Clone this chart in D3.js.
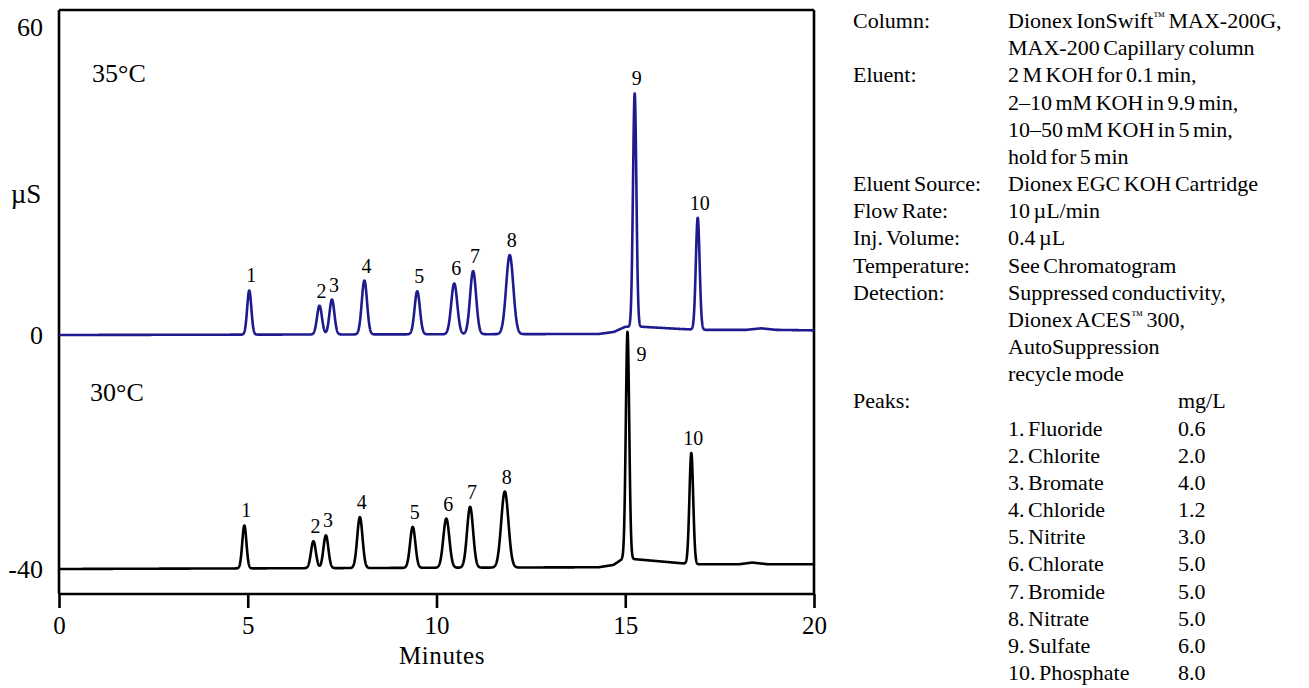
<!DOCTYPE html>
<html>
<head>
<meta charset="utf-8">
<script src="https://cdn.jsdelivr.net/npm/d3@7"></script>
<style>
  body { margin: 0; background: #fff; }
  text { font-family: "Liberation Serif", "Times New Roman", serif; fill: #000; }
</style>
</head>
<body>
<svg id="chart" width="1309" height="688"></svg>
<script>
// ---- axis ticks ----
const timeTicks = [0, 5, 10, 15, 20];
const signalTicks = [-40, 0, 60];

// ---- peaks: numbering, retention time (min), height (µS), width (min) ----
const peakIds = [1, 2, 3, 4, 5, 6, 7, 8, 9, 10];

// 35 °C run (trace drawn at offset 0)
const rt35 = [5.04, 6.90, 7.23, 8.09, 9.49, 10.47, 10.97, 11.94, 15.25, 16.92];
const ht35 = [8.6, 5.6, 6.8, 10.5, 8.4, 9.9, 12.3, 15.4, 45.5, 21.8];
const sd35 = [0.055, 0.065, 0.065, 0.07, 0.07, 0.08, 0.08, 0.095, 0.045, 0.05];
const drift35 = [[0, 0], [14.3, 0.2], [14.7, 0.6], [15.0, 1.6], [15.45, 1.6], [16.4, 1.2],
                 [17.0, 1.0], [18.2, 1.0], [18.6, 1.3], [19.0, 1.0], [20, 0.9]];

// 30 °C run (trace drawn at offset -40)
const rt30 = [4.91, 6.74, 7.07, 7.97, 9.37, 10.26, 10.89, 11.81, 15.06, 16.75];
const ht30 = [7.35, 4.6, 5.6, 8.7, 7.0, 8.4, 10.4, 13.0, 38.9, 18.95];
const sd30 = [0.055, 0.065, 0.065, 0.07, 0.07, 0.08, 0.08, 0.095, 0.045, 0.05];
const drift30 = [[0, 0], [14.3, 0.3], [14.69, 0.7], [14.92, 1.7], [15.22, 1.7], [16.46, 1.0],
                 [16.9, 0.8], [18.0, 0.8], [18.36, 1.1], [18.8, 0.8], [20, 0.8]];

// ---- method conditions ----
const condLabels = ["Column:", "", "Eluent:", "", "", "", "Eluent Source:", "Flow Rate:",
  "Inj. Volume:", "Temperature:", "Detection:", "", "", "", "Peaks:"];
const condValues = ["Dionex IonSwift™ MAX-200G,", "MAX-200 Capillary column",
  "2 M KOH for 0.1 min,", "2–10 mM KOH in 9.9 min,", "10–50 mM KOH in 5 min,",
  "hold for 5 min", "Dionex EGC KOH Cartridge", "10 µL/min", "0.4 µL",
  "See Chromatogram", "Suppressed conductivity,", "Dionex ACES™ 300,",
  "AutoSuppression", "recycle mode", ""];
const analyteNames = ["Fluoride", "Chlorite", "Bromate", "Chloride", "Nitrite",
  "Chlorate", "Bromide", "Nitrate", "Sulfate", "Phosphate"];
const analyteConc = ["0.6", "2.0", "4.0", "1.2", "3.0", "5.0", "5.0", "5.0", "6.0", "8.0"];

// ---- layout ----
const svg = d3.select("#chart");
const plotLeft = 59, plotRight = 814, plotTop = 10, axisY = 594;

const x = d3.scaleLinear().domain([0, 20]).range([plotLeft, plotRight]);
// traces are stacked: upper trace spans 0..60, lower trace sits at -40
const y = d3.scaleLinear().domain([-40, 0, 60]).range([569, 335, 27]);

function buildTrace(offset, rt, ht, sd, drift) {
  const base = d3.scaleLinear().domain(drift.map(d => d[0])).range(drift.map(d => d[1]));
  const signal = t => {
    let v = offset + base(t);
    for (let i = 0; i < rt.length; i++) {
      v += ht[i] * Math.exp(-0.5 * Math.pow((t - rt[i]) / sd[i], 2));
    }
    return v;
  };
  const pts = d3.range(0, 20.0001, 0.004).map(t => [t, signal(t)]);
  const tops = rt.map(r => signal(r));
  return { pts, tops };
}

const line = d3.line().x(d => x(d[0])).y(d => y(d[1]));

const run35 = buildTrace(0, rt35, ht35, sd35, drift35);
const run30 = buildTrace(-40, rt30, ht30, sd30, drift30);

// frame
const frame = svg.append("g").attr("stroke", "#000").attr("stroke-width", 2.6).attr("fill", "none");
frame.append("line").attr("x1", plotLeft).attr("x2", plotRight).attr("y1", plotTop).attr("y2", plotTop);
frame.append("line").attr("x1", plotLeft).attr("x2", plotLeft).attr("y1", plotTop).attr("y2", axisY);
frame.append("line").attr("x1", plotRight).attr("x2", plotRight).attr("y1", plotTop).attr("y2", axisY);

// x axis
const xAxis = svg.append("g").attr("transform", `translate(0,${axisY})`)
  .call(d3.axisBottom(x).tickValues(timeTicks).tickSize(14).tickPadding(8).tickFormat(d3.format("d")));
xAxis.select(".domain").attr("stroke", "#000").attr("stroke-width", 2.6).attr("d", `M${plotLeft},0H${plotRight}`);
xAxis.selectAll(".tick line").attr("stroke", "#000").attr("stroke-width", 2.6);
xAxis.selectAll(".tick text").style("font-size", "25px").style("font-family", "Liberation Serif").attr("fill", "#000");

// y axis labels (plain hyphen for negatives)
const yAxis = svg.append("g").attr("transform", `translate(${plotLeft},0)`)
  .call(d3.axisLeft(y).tickValues(signalTicks).tickSize(0).tickPadding(16).tickFormat(d => String(d)));
yAxis.select(".domain").remove();
yAxis.selectAll(".tick text").style("font-size", "26px").style("font-family", "Liberation Serif")
  .attr("fill", "#000").attr("dy", "0.34em");

// axis titles
svg.append("text").attr("x", 442).attr("y", 664).attr("text-anchor", "middle")
  .style("font-size", "25px").style("letter-spacing", "0.6px").text("Minutes");
svg.append("text").attr("x", 26).attr("y", 203).attr("text-anchor", "middle")
  .style("font-size", "27px").text("µS");

// traces
svg.append("path").datum(run35.pts).attr("d", line)
  .attr("fill", "none").attr("stroke", "#1e1b8e").attr("stroke-width", 2.6).attr("stroke-linejoin", "round");
svg.append("path").datum(run30.pts).attr("d", line)
  .attr("fill", "none").attr("stroke", "#000").attr("stroke-width", 2.6).attr("stroke-linejoin", "round");

// temperature labels
svg.append("text").attr("x", 92).attr("y", 82).style("font-size", "26px").text("35°C");
svg.append("text").attr("x", 90).attr("y", 401).style("font-size", "26px").text("30°C");

// peak numbers
function peakLabels(run, rt, sideways) {
  svg.append("g").selectAll("text").data(peakIds).join("text")
    .style("font-size", "20px")
    .attr("text-anchor", d => sideways.includes(d) ? "start" : "middle")
    .attr("x", (d, i) => x(rt[i]) + (sideways.includes(d) ? 9 : 2))
    .attr("y", (d, i) => y(run.tops[i]) + (sideways.includes(d) ? 29 : -8))
    .text(d => d);
}
peakLabels(run35, rt35, []);
peakLabels(run30, rt30, [9]);

// method conditions panel
const panel = svg.append("g").style("font-size", "22px").style("word-spacing", "-2px");
const rowY = i => 28 + 27.17 * i;
function addRich(sel, str) {
  const parts = str.split("™");
  parts.forEach((p, k) => {
    if (k > 0) {
      sel.append("tspan").attr("dy", -8).style("font-size", "12px").text("™");
      sel.append("tspan").attr("dy", 8).text(p);
    } else {
      sel.append("tspan").text(p);
    }
  });
}
condLabels.forEach((lab, i) => {
  if (lab) panel.append("text").attr("x", 853).attr("y", rowY(i)).text(lab);
  if (condValues[i]) addRich(panel.append("text").attr("x", 1008).attr("y", rowY(i)), condValues[i]);
});
const peaksRow = condLabels.indexOf("Peaks:");
panel.append("text").attr("x", 1178).attr("y", rowY(peaksRow)).text("mg/L");
analyteNames.forEach((n, i) => {
  panel.append("text").attr("x", 1008).attr("y", rowY(peaksRow + 1 + i)).text(`${peakIds[i]}. ${n}`);
  panel.append("text").attr("x", 1178).attr("y", rowY(peaksRow + 1 + i)).text(analyteConc[i]);
});
</script>
</body>
</html>
